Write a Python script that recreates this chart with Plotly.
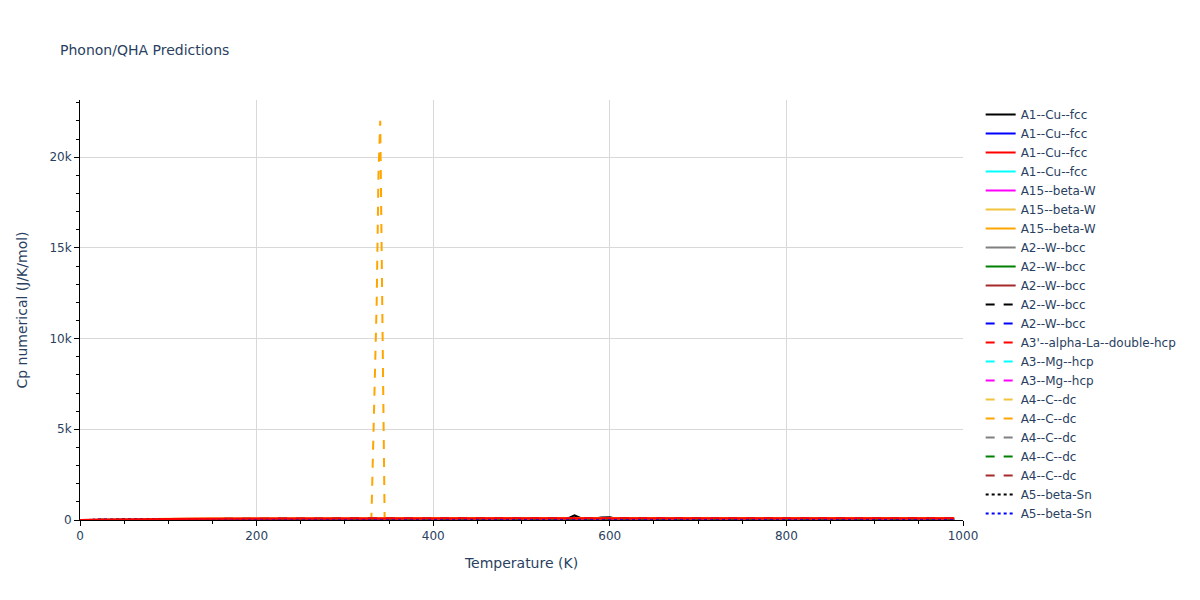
import plotly.graph_objects as go

# Temperatures (K) for most series
T = [0, 50, 100, 150, 200, 300, 400, 500, 600, 700, 800, 900, 990]

names = [
    "A1--Cu--fcc", "A1--Cu--fcc", "A1--Cu--fcc", "A1--Cu--fcc",
    "A15--beta-W", "A15--beta-W", "A15--beta-W",
    "A2--W--bcc", "A2--W--bcc", "A2--W--bcc", "A2--W--bcc", "A2--W--bcc",
    "A3'--alpha-La--double-hcp", "A3--Mg--hcp", "A3--Mg--hcp",
    "A4--C--dc", "A4--C--dc", "A4--C--dc", "A4--C--dc", "A4--C--dc",
    "A5--beta-Sn", "A5--beta-Sn",
]
colors = [
    "black", "blue", "red", "cyan", "magenta", "#F0C43C", "orange",
    "gray", "green", "brown", "black", "blue", "red", "cyan", "magenta",
    "#F0C43C", "orange", "gray", "green", "brown", "black", "blue",
]
dashes = ["solid"] * 10 + ["dash"] * 10 + ["dot"] * 2

# Cp values (J/K/mol)
cp_values = [
    None,  # black solid has its own finer grid below
    [0, 14, 20, 22, 23, 24, 25, 25, 26, 26, 27, 27, 28],
    [0, 40, 62, 75, 82, 90, 94, 96, 98, 99, 100, 101, 102],
    [0, 15, 20, 22, 23, 24, 25, 25, 26, 26, 27, 27, 28],
    [0, 40, 65, 80, 88, 94, 97, 98, 99, 100, 100, 101, 101],
    [0, 45, 70, 84, 90, 95, 97, 98, 99, 100, 100, 100, 101],
    [0, 38, 62, 78, 86, 93, 96, 98, 99, 99, 100, 100, 101],
    [0, 12, 19, 21, 23, 24, 25, 25, 26, 26, 27, 27, 28],
    [0, 10, 18, 21, 22, 24, 25, 25, 26, 26, 27, 28, 28],
    [0, 13, 19, 22, 23, 24, 25, 25, 26, 27, 27, 28, 28],
    [0, 12, 19, 22, 23, 24, 25, 26, 26, 27, 27, 28, 29],
    [0, 11, 18, 21, 23, 24, 25, 26, 26, 27, 27, 28, 29],
    [0, 30, 42, 46, 48, 50, 51, 52, 52, 53, 54, 55, 56],
    [0, 28, 40, 45, 47, 49, 50, 51, 52, 52, 53, 54, 55],
    [0, 29, 41, 45, 47, 49, 50, 51, 52, 53, 53, 54, 55],
    [0, 5, 30, 60, 78, 92, 96, 98, 99, 100, 100, 101, 101],
    None,  # orange dashed has its own grid below
    [0, 6, 30, 60, 78, 92, 96, 98, 99, 100, 100, 101, 102],
    [0, 5, 14, 24, 31, 38, 42, 44, 45, 46, 46, 47, 48],
    [0, 6, 30, 60, 78, 92, 96, 98, 99, 100, 100, 101, 102],
    [0, 35, 44, 47, 48, 50, 51, 52, 52, 53, 54, 54, 55],
    [0, 34, 43, 46, 48, 50, 51, 52, 53, 53, 54, 55, 55],
]

# Black solid A1--Cu--fcc with small bumps
T_black = [0, 50, 100, 150, 200, 300, 400, 500, 530, 540, 550, 560, 570,
           580, 590, 600, 610, 700, 740, 760, 770, 780, 800, 900, 990]
cp_black = [0, 14, 20, 22, 23, 24, 25, 26, 30, 100, 35, 250, 40,
            60, 140, 150, 40, 30, 45, 40, 110, 40, 30, 30, 31]

# Orange dashed A4--C--dc with the spike near 340 K
T_spike = [0, 50, 100, 150, 200, 300, 330, 336, 338, 340, 345, 400, 500,
           600, 700, 800, 900, 990]
cp_spike = [0, 5, 30, 60, 78, 92, 94, 12000, 19000, 22000, 95, 96, 98,
            99, 100, 100, 101, 101]

fig = go.Figure()
for i, name in enumerate(names):
    if i == 0:
        x, y = T_black, cp_black
    elif i == 16:
        x, y = T_spike, cp_spike
    else:
        x, y = T, cp_values[i]
    fig.add_trace(go.Scatter(
        x=x, y=y, mode="lines", name=name, legendrank=1000 + i,
        line=dict(color=colors[i], dash=dashes[i], width=2),
    ))
# draw the red solid line last (on top), as in the reference
fig.data = fig.data[:2] + fig.data[3:] + (fig.data[2],)

axis_common = dict(
    showline=True, linecolor="black", linewidth=1,
    ticks="outside", ticklen=5, tickcolor="black",
    showgrid=True, gridcolor="#d9d9d9", zeroline=False,
)
fig.update_layout(
    template="plotly_white",
    font=dict(family="Verdana, DejaVu Sans, sans-serif", size=12, color="#2a3f5f"),
    title=dict(text="Phonon/QHA Predictions", x=0.05, y=0.925, font=dict(size=14)),
    width=1200, height=600,
    margin=dict(l=80, r=237, t=100, b=80),
    xaxis=dict(title="Temperature (K)", range=[0, 1000], dtick=200,
               minor=dict(ticks="outside", ticklen=3, dtick=50, tickcolor="black"),
               **axis_common),
    yaxis=dict(title=dict(text="Cp numerical (J/K/mol)", standoff=18),
               range=[0, 23150], dtick=5000,
               minor=dict(ticks="outside", ticklen=3, dtick=1000, tickcolor="black"),
               **axis_common),
    legend=dict(x=1.02, y=1.0, yanchor="top", maxheight=560),
)
fig.write_html("out.html", config={"displayModeBar": False},
               post_script="document.body.style.margin='0';document.body.style.overflow='hidden';")
